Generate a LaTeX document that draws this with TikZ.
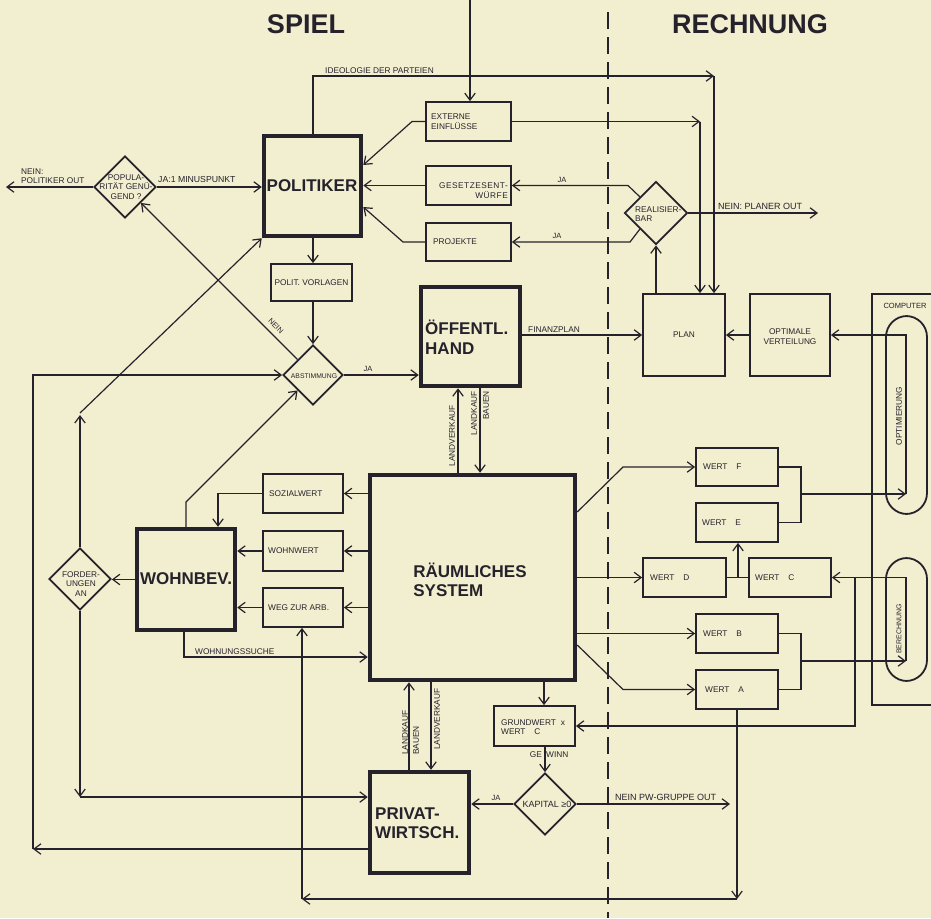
\documentclass[tikz,border=0pt]{standalone}
\usepackage{fontspec}
\setmainfont{Liberation Sans}
\usetikzlibrary{arrows.meta,shapes.geometric,fit}
\definecolor{paper}{RGB}{242,238,208}
\definecolor{ink}{RGB}{38,34,44}
\begin{document}
\begin{tikzpicture}[x=1pt,y=-1pt,
  ln/.style={draw=ink,line width=1.2pt},
  ar/.style={ln,-{Straight Barb[length=7pt,width=10.5pt]}},
  sbox/.style={draw=ink,line width=1.8pt,inner sep=0pt,rectangle},
  bbox/.style={draw=ink,line width=4.5pt,inner sep=0pt,rectangle},
  dia/.style={diamond,draw=ink,line width=1.8pt,inner sep=0pt,minimum size=#1},
  pill/.style={draw=ink,line width=1.8pt,rounded corners=21pt,inner sep=0pt,rectangle},
  tx/.style={text=ink,inner sep=0pt,font=\fontsize{8.3}{9.5}\selectfont},
  ltx/.style={text=ink,inner sep=0pt,font=\fontsize{9}{10}\selectfont},
  stx/.style={text=ink,inner sep=0pt,font=\fontsize{7.5}{9}\selectfont},
  bigtx/.style={text=ink,inner sep=0pt,font=\fontsize{17}{19.5}\selectfont\bfseries},
  ttl/.style={text=ink,inner sep=0pt,font=\fontsize{27}{30}\selectfont\bfseries},
]
\fill[paper] (0,0) rectangle (931,918);
\useasboundingbox (0,0) rectangle (931,918);

% titles and separator
\node[ttl] (spiel) at (306,24) {SPIEL};
\node[ttl] (rechnung) at (750,24) {RECHNUNG};
\draw[ink,line width=2pt,dash pattern=on 17pt off 8pt] (608,12) -- (608,918);

% big boxes
\node[bbox,fit={(264,136)(361,236)}] (pol) {};
\node[bbox,fit={(421,287)(520,386)}] (oh) {};
\node[bbox,fit={(370,475)(575,680)}] (rs) {};
\node[bbox,fit={(137,529)(235,630)}] (wohnb) {};
\node[bbox,fit={(370,772)(469,873)}] (pw) {};
\node[bigtx] (polt) at (312,186) {POLITIKER};
\node[bigtx,align=left,anchor=west] (oht) at (425,337) {ÖFFENTL.\\HAND};
\node[bigtx,align=left] (rst) at (470,580) {RÄUMLICHES\\SYSTEM};
\node[bigtx] (wohnbt) at (186,579) {WOHNBEV.};
\node[bigtx,align=left,anchor=west] (pwt) at (375,823) {PRIVAT-\\WIRTSCH.};

% small boxes
\node[sbox,fit={(426,102)(511,141)}] (ext) {};
\node[sbox,fit={(426,166)(511,205)}] (ges) {};
\node[sbox,fit={(426,223)(511,261)}] (proj) {};
\node[sbox,fit={(271,264)(352,301)}] (vorl) {};
\node[sbox,fit={(643,294)(725,376)}] (plan) {};
\node[sbox,fit={(750,294)(830,376)}] (opt) {};
\node[sbox,fit={(263,474)(343,513)}] (soz) {};
\node[sbox,fit={(263,531)(343,571)}] (wohnw) {};
\node[sbox,fit={(263,588)(343,627)}] (weg) {};
\node[sbox,fit={(696,448)(778,486)}] (wF) {};
\node[sbox,fit={(696,503)(778,542)}] (wE) {};
\node[sbox,fit={(643,558)(726,597)}] (wD) {};
\node[sbox,fit={(749,558)(831,597)}] (wC) {};
\node[sbox,fit={(696,614)(778,653)}] (wB) {};
\node[sbox,fit={(696,670)(778,709)}] (wA) {};
\node[sbox,fit={(494,706)(575,746)}] (grund) {};
\draw[ink,line width=1.8pt] (933,294) -| (872,705) -- (933,705);
\node[pill,fit={(886,316)(927,514)}] (optp) {};
\node[pill,fit={(886,558)(927,681)}] (berp) {};

\node[tx,align=left,anchor=west] (extt) at (431,121.5) {EXTERNE\\EINFLÜSSE};
\node[tx,align=right,anchor=east] (gest) at (508,190.5) {\addfontfeature{LetterSpace=6}GESETZESENT-\\\addfontfeature{LetterSpace=6}WÜRFE};
\node[tx,anchor=west] (projt) at (433,242) {PROJEKTE};
\node[tx] (vorlt) at (311.5,282.5) {POLIT. VORLAGEN};
\node[tx] (plant) at (684,335) {PLAN};
\node[tx,align=center] (optt) at (790,336.5) {OPTIMALE\\VERTEILUNG};
\node[stx] (compt) at (905,306) {COMPUTER};
\node[tx,rotate=90] (optpt) at (899,416) {OPTIMIERUNG};
\node[text=ink,inner sep=0pt,font=\fontsize{7}{8}\selectfont,rotate=90] (berpt) at (899,629) {BERECHNUNG};
\node[tx,anchor=west] (sozt) at (269,493.5) {SOZIALWERT};
\node[tx,anchor=west] (wohnwt) at (268,551) {WOHNWERT};
\node[tx,anchor=west] (wegt) at (268,607.5) {WEG ZUR ARB.};
\node[tx,anchor=west] (wFt) at (703,467) {WERT\hspace{9pt}F};
\node[tx,anchor=west] (wEt) at (702,522.5) {WERT\hspace{9pt}E};
\node[tx,anchor=west] (wDt) at (650,577.5) {WERT\hspace{9pt}D};
\node[tx,anchor=west] (wCt) at (755,577.5) {WERT\hspace{9pt}C};
\node[tx,anchor=west] (wBt) at (703,633.5) {WERT\hspace{9pt}B};
\node[tx,anchor=west] (wAt) at (705,689.5) {WERT\hspace{9pt}A};
\node[tx,align=left,anchor=west] (grundt) at (501,727) {GRUNDWERT\hspace{5pt}x\\WERT\hspace{9pt}C};

% diamonds
\node[dia=62pt] (pop) at (125,187) {};
\node[dia=60pt] (abst) at (313,375) {};
\node[dia=63pt] (real) at (656,213) {};
\node[dia=62pt] (ford) at (80,579) {};
\node[dia=62pt] (kap) at (545,804) {};
\node[tx,align=center] (popt) at (126,187) {POPULA-\\RITÄT GENÜ-\\GEND ?};
\node[text=ink,inner sep=0pt,font=\fontsize{6.8}{8}\selectfont] (abstt) at (314,376) {ABSTIMMUNG};
\node[tx,align=left,anchor=west] (realt) at (635,214) {REALISIER-\\BAR};
\node[tx,align=center] (fordt) at (81,584) {FORDER-\\UNGEN\\AN};
\node[ltx] (kapt) at (547,804) {KAPITAL ≥0};

% free ends
\coordinate (topin) at (470,0);
\coordinate (polout) at (6,187);
\coordinate (planerout) at (818,213);
\coordinate (pwout) at (730,804);
\coordinate (c1) at (737,899);
\coordinate (c2) at (302,899);
\coordinate (c3) at (80,797);
\coordinate (c4) at (33,849);
\coordinate (c5) at (33,375);

% top area
\draw[ar] (topin) -- (topin |- ext.north);
\draw[ar] (313,0 |- pol.north) -- (313,76) -- (714,76);
\draw[ar] (714,76) -- (714,0 |- plan.north);
\node[tx,anchor=south west] (ideo) at (325,74) {IDEOLOGIE DER PARTEIEN};
\draw[ar] (ext.west) -- (412,121.5) -- (pol.east |- 0,165);
\draw[ar] (ext.east) -- (700,121.5);
\draw[ar] (700,121.5) -- (700,0 |- plan.north);
\draw[ar] (ges.west) -- (ges.west -| pol.east);
\draw[ar] (proj.west) -- (403,242) -- (pol.east |- 0,207);
\draw[ar] (real.north west) -- (ges.east -| 628,0) -- (ges.east);
\draw[ar] (real.south west) -- (proj.east -| 630,0) -- (proj.east);
\node[stx,anchor=south] (ja1) at (562,183) {JA};
\node[stx,anchor=south] (ja2) at (557,239) {JA};
\draw[ar] (real.east) -- (planerout);
\node[ltx,anchor=south west] (planerl) at (718,210) {NEIN: PLANER OUT};
\draw[ar] (real.south |- plan.north) -- (real.south);
\draw[ar] (opt.west) -- (plan.east);

% politiker area
\draw[ar] (pop.east) -- (pop.east -| pol.west);
\node[text=ink,inner sep=0pt,font=\fontsize{8.7}{10}\selectfont,anchor=south west] (jaminus) at (158,183) {JA:1 MINUSPUNKT};
\draw[ar] (pop.west) -- (polout);
\node[tx,align=left,anchor=south west] (polout-l) at (21,184) {NEIN:\\POLITIKER OUT};
\draw[ar] (pol.south -| 313,0) -- (vorl.north -| 313,0);
\draw[ar] (vorl.south -| abst.north) -- (abst.north);
\draw[ar] (abst.north west) -- (pop.south east);
\node[stx,rotate=-45] (neinl) at (276,326) {NEIN};
\draw[ar] (abst.east) -- (abst.east -| oh.west);
\node[stx,anchor=south] (ja3) at (368,372) {JA};
\draw[ar] (oh.east |- plan.west) -- (plan.west);
\node[tx,anchor=south west] (finl) at (528,333) {FINANZPLAN};

% oeffentl hand <-> rs
\draw[ar] (rs.north -| 458,0) -- (oh.south -| 458,0);
\draw[ar] (oh.south -| 480,0) -- (rs.north -| 480,0);
\node[tx,rotate=90,anchor=east] (lvk1) at (452,405) {LANDVERKAUF};
\node[tx,rotate=90,anchor=east] (lk1) at (474,391) {LANDKAUF};
\node[tx,rotate=90,anchor=east] (bau1) at (486,391) {BAUEN};

% rs <-> pw
\draw[ar] (pw.north -| 409,0) -- (rs.south -| 409,0);
\draw[ar] (rs.south -| 431,0) -- (pw.north -| 431,0);
\node[tx,rotate=90,anchor=west] (lk2) at (405,755) {LANDKAUF};
\node[tx,rotate=90,anchor=west] (bau2) at (416,755) {BAUEN};
\node[tx,rotate=90,anchor=west] (lvk2) at (437,750) {LANDVERKAUF};

% rs -> grundwert -> kapital
\draw[ar] (rs.south -| 544,0) -- (grund.north -| 544,0);
\draw[ar] (kap.north |- grund.south) -- (kap.north);
\node[tx,anchor=east] (ge) at (542,755) {GE};
\node[tx,anchor=west] (winn) at (546,755) {WINN};
\draw[ar] (kap.west) -- (kap.west -| pw.east);
\node[stx,anchor=south] (ja4) at (496,801) {JA};
\draw[ar] (kap.east) -- (pwout);
\node[ltx,anchor=south west] (pwoutl) at (615,801) {NEIN PW-GRUPPE OUT};

% rs -> werte
\draw[ar] (rs.east |- 0,512) -- (623,467) -- (wF.west);
\draw[ar] (rs.east |- wD.west) -- (wD.west);
\draw[ar] (rs.east |- wB.west) -- (wB.west);
\draw[ar] (rs.east |- 0,645) -- (623,689.5) -- (wA.west);
\draw[ln] (wD.east) -- (wC.west);
\draw[ar] (738,0 |- wD.east) -- (738,0 |- wE.south);
\draw[ln] (wF.east) -- (801,0 |- wF.east) -- (801,0 |- wE.east) -- (wE.east);
\draw[ar] (801,494) -- (906,494);
\draw[ar] (906,494) -- (906,0 |- opt.east) -- (opt.east);
\draw[ln] (wB.east) -- (801,0 |- wB.east) -- (801,0 |- wA.east) -- (wA.east);
\draw[ar] (801,661) -- (906,661);
\draw[ar] (906,661) -- (906,0 |- wC.east) -- (wC.east);
\draw[ar] (855,0 |- wC.east) -- (855,0 |- grund.east) -- (grund.east);
\draw[ar] (wA.south -| c1) -- (c1);
\draw[ar] (c1) -- (c2);
\draw[ar] (c2) -- (c2 |- weg.south);

% rs -> wohn
\draw[ar] (rs.west |- soz.east) -- (soz.east);
\draw[ar] (rs.west |- wohnw.east) -- (wohnw.east);
\draw[ar] (rs.west |- weg.east) -- (weg.east);
\draw[ar] (soz.west) -- (218,0 |- soz.west) -- (218,0 |- wohnb.north);
\draw[ar] (wohnw.west) -- (wohnw.west -| wohnb.east);
\draw[ar] (weg.west) -- (weg.west -| wohnb.east);
\draw[ar] (wohnb.south -| 184,0) -- (184,657) -- (rs.west |- 0,657);
\node[tx,anchor=south west] (wsl) at (195,655) {WOHNUNGSSUCHE};
\draw[ar] (wohnb.north -| 186,0) -- (186,502) -- (abst.south west);
\draw[ar] (wohnb.west) -- (wohnb.west -| ford.east);

% left loops
\draw[ar] (ford.north) -- (80,415);
\draw[ar] (80,413) -- (pol.south west);
\draw[ar] (ford.south) -- (c3);
\draw[ar] (c3) -- (c3 -| pw.west);
\draw[ar] (pw.west |- c4) -- (c4);
\draw[ar] (c4) -- (c5) -- (abst.west);
\end{tikzpicture}
\end{document}
